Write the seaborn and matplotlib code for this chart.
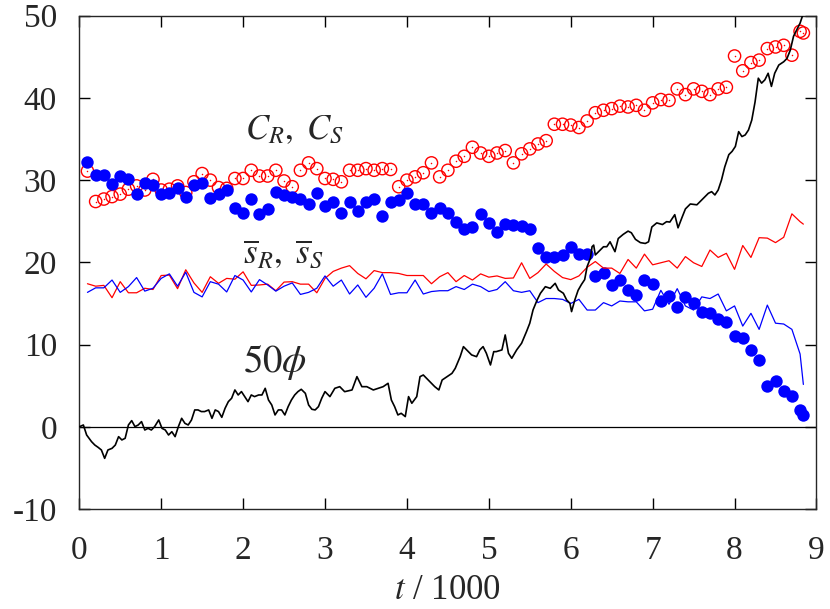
import numpy as np
import pandas as pd
import matplotlib
matplotlib.use("Agg")
import matplotlib.pyplot as plt
import seaborn as sns

# sampling times (t / 1000) for the marker series and the two thin lines
t = np.append(np.arange(1, 89) / 10, 8.84)

c_r = [31.1, 27.4, 27.7, 28.0, 28.3, 28.9, 29.3, 28.8, 30.1, 28.8,
       28.9, 29.3, 28.5, 29.8, 30.8, 30.0, 29.1, 29.0, 30.2, 30.2,
       31.2, 30.5, 30.5, 31.2, 29.9, 29.2, 31.2, 32.1, 31.4, 30.2,
       30.1, 29.8, 31.2, 31.2, 31.4, 31.2, 31.4, 31.3, 29.2, 30.0,
       30.4, 30.9, 32.1, 30.4, 31.2, 32.3, 32.9, 34.0, 33.3, 32.9,
       33.3, 33.6, 32.1, 33.2, 33.8, 34.4, 34.8, 36.8, 36.8, 36.7,
       36.4, 37.2, 38.2, 38.5, 38.7, 39.0, 38.9, 39.1, 38.5, 39.4,
       39.8, 39.7, 41.1, 40.4, 41.1, 40.8, 40.4, 41.1, 41.3, 45.1,
       43.3, 44.3, 44.6, 46.0, 46.2, 46.4, 45.2, 48.1, 47.9]

c_s = [32.2, 30.6, 30.6, 29.5, 30.5, 30.1, 28.3, 29.6, 29.4, 28.3,
       28.4, 29.0, 27.9, 29.4, 29.6, 27.8, 28.3, 28.8, 26.6, 26.0,
       27.7, 25.9, 26.5, 28.5, 28.2, 27.9, 27.7, 27.1, 28.4, 26.8,
       27.4, 26.0, 27.4, 26.2, 27.4, 27.7, 25.6, 27.3, 27.6, 28.4,
       27.1, 27.1, 26.0, 26.6, 26.0, 24.9, 24.1, 24.3, 25.9, 24.8,
       23.7, 24.7, 24.5, 24.4, 24.0, 21.7, 20.7, 20.7, 20.9, 21.9,
       21.0, 21.0, 18.3, 18.7, 17.2, 17.8, 16.6, 16.0, 17.9, 17.4,
       15.3, 15.9, 14.6, 15.8, 15.1, 14.0, 13.9, 13.1, 12.7, 11.0,
       10.8, 9.4, 8.1, 5.0, 5.6, 4.4, 3.7, 2.0, 1.4]

s_r = [17.4, 17.1, 17.2, 15.7, 17.65, 16.3, 16.3, 16.85, 16.7, 18.4,
       18.45, 16.8, 19.1, 17.5, 16.35, 18.25, 17.45, 18.05, 17.95, 18.85,
       17.2, 17.25, 17.35, 16.55, 17.6, 17.65, 17.35, 17.35, 16.3, 18.05,
       18.9, 19.3, 19.6, 18.65, 18.0, 19.0, 18.75, 18.75, 18.65, 18.4,
       18.4, 18.4, 17.4, 18.25, 18.75, 17.65, 18.4, 17.85, 18.6, 18.2,
       18.35, 18.05, 18.1, 19.95, 18.05, 18.75, 19.8, 18.9, 18.15, 17.9,
       18.35, 19.4, 20.1, 19.3, 19.3, 18.65, 20.35, 19.3, 21.0, 19.7,
       19.95, 20.2, 19.3, 20.7, 19.95, 19.5, 21.5, 20.6, 21.1, 19.15,
       22.05, 20.6, 23.0, 22.95, 22.4, 23.05, 25.9, 24.95, 24.65]

s_s = [16.35, 16.9, 16.9, 17.85, 16.35, 17.05, 18.15, 16.5, 16.85, 18.05,
       18.6, 17.1, 18.8, 16.35, 15.8, 17.65, 17.35, 16.4, 18.4, 17.85,
       16.4, 17.9, 17.25, 16.5, 17.1, 17.5, 16.1, 16.35, 16.85, 18.35,
       17.1, 17.85, 16.15, 17.25, 15.75, 16.85, 18.6, 16.1, 16.3, 16.3,
       17.85, 16.15, 16.45, 16.55, 16.55, 17.05, 16.7, 17.35, 17.05, 16.45,
       16.7, 17.65, 16.55, 16.35, 16.55, 15.1, 15.6, 15.6, 15.5, 15.0,
       15.5, 14.2, 14.2, 15.1, 14.7, 15.3, 15.2, 15.2, 14.1, 14.3,
       16.6, 14.9, 16.8, 14.7, 14.2, 15.8, 15.6, 16.15, 14.1, 14.7,
       12.25, 13.8, 11.85, 14.8, 12.6, 12.5, 11.85, 8.85, 5.15]

# 50*phi trace
phi_t = [0.0, 0.05, 0.09, 0.15, 0.19, 0.23, 0.27, 0.31, 0.35, 0.40,
         0.44, 0.48, 0.52, 0.56, 0.60, 0.64, 0.68, 0.72, 0.76, 0.80,
         0.84, 0.88, 0.92, 0.97, 1.01, 1.05, 1.09, 1.13, 1.17, 1.21,
         1.25, 1.29, 1.33, 1.37, 1.41, 1.45, 1.49, 1.53, 1.58, 1.62,
         1.66, 1.70, 1.74, 1.78, 1.82, 1.86, 1.90, 1.94, 1.98, 2.02,
         2.06, 2.10, 2.14, 2.19, 2.23, 2.27, 2.31, 2.35, 2.39, 2.43,
         2.47, 2.51, 2.55, 2.59, 2.63, 2.67, 2.71, 2.76, 2.80, 2.84,
         2.88, 2.92, 2.96, 3.00, 3.06, 3.12, 3.18, 3.24, 3.33, 3.39,
         3.45, 3.51, 3.59, 3.65, 3.71, 3.77, 3.81, 3.85, 3.89, 3.93,
         3.98, 4.02, 4.06, 4.12, 4.16, 4.20, 4.26, 4.34, 4.39, 4.43,
         4.49, 4.55, 4.59, 4.65, 4.69, 4.73, 4.79, 4.85, 4.89, 4.93,
         4.97, 5.02, 5.06, 5.09, 5.16, 5.20, 5.24, 5.28, 5.34, 5.40,
         5.46, 5.50, 5.54, 5.59, 5.63, 5.69, 5.75, 5.81, 5.85, 5.91,
         5.95, 5.99, 6.01, 6.05, 6.09, 6.13, 6.17, 6.20, 6.24, 6.26,
         6.28, 6.30, 6.34, 6.38, 6.40, 6.44, 6.48, 6.54, 6.58, 6.64,
         6.70, 6.74, 6.79, 6.85, 6.91, 6.95, 6.99, 7.05, 7.12, 7.17,
         7.21, 7.27, 7.31, 7.36, 7.40, 7.46, 7.54, 7.60, 7.64, 7.68,
         7.72, 7.76, 7.80, 7.84, 7.88, 7.93, 7.97, 8.01, 8.05, 8.09,
         8.13, 8.17, 8.21, 8.25, 8.29, 8.33, 8.37, 8.41, 8.45, 8.49,
         8.54, 8.60, 8.64, 8.68, 8.72, 8.76, 8.80, 8.84]
phi_50 = [0.0, 0.22, -1.0, -1.81, -2.22, -2.5, -2.82, -3.84, -2.82, -2.62,
          -2.22, -1.2, -1.6, -1.4, 0.22, 0.75, 0.02, 0.22, 0.63, -0.39,
          -0.19, -0.39, 0.02, 0.83, -0.19, -0.39, -1.0, -0.6, -1.2, 0.02,
          1.03, 0.42, 0.22, 0.83, 2.05, 2.05, 1.85, 1.85, 2.05, 1.03,
          2.05, 1.85, 1.15, 2.25, 3.06, 3.47, 4.48, 3.87, 4.28, 3.67,
          3.06, 3.87, 3.67, 3.87, 3.87, 4.68, 3.26, 2.65, 1.44, 2.05,
          2.05, 1.44, 2.45, 3.26, 3.87, 4.28, 4.56, 4.07, 2.65, 2.13,
          2.05, 2.45, 3.47, 4.28, 3.67, 4.68, 4.88, 4.27, 4.48, 6.10,
          4.88, 4.88, 4.48, 4.68, 4.88, 5.29, 3.26, 2.45, 1.44, 1.64,
          1.24, 3.67, 2.86, 3.67, 6.10, 6.30, 5.69, 4.88, 4.48, 5.69,
          6.10, 6.50, 7.11, 8.53, 9.75, 9.35, 8.74, 8.53, 9.35, 9.75,
          8.94, 7.52, 9.14, 9.14, 9.35, 11.17, 8.94, 8.33, 9.35, 10.16,
          11.58, 12.60, 14.22, 15.43, 16.24, 17.04, 16.84, 17.45, 16.64, 16.24,
          15.43, 15.02, 14.01, 15.43, 16.6, 17.3, 17.9, 19.48, 20.5, 21.9,
          22.1, 20.9, 21.3, 21.7, 21.9, 21.9, 22.5, 21.3, 22.9, 23.4,
          23.8, 23.6, 22.8, 22.4, 22.3, 22.5, 24.3, 24.8, 24.6, 24.95,
          24.9, 25.8, 24.2, 25.5, 26.5, 27.1, 27.0, 27.6, 28.0, 28.4,
          28.6, 28.2, 28.8, 30.0, 31.6, 33.1, 33.5, 34.1, 35.9, 35.3,
          35.5, 36.1, 37.3, 39.5, 42.4, 41.8, 42.2, 43.0, 41.4, 43.0,
          44.0, 44.4, 44.8, 45.8, 47.5, 48.3, 49.1, 50.3]

df = pd.DataFrame({"t": t, "c_r": c_r, "c_s": c_s, "s_r": s_r, "s_s": s_s})
phi = pd.DataFrame({"t": phi_t, "phi50": phi_50})

sns.set_style("ticks")
plt.rcParams["font.family"] = ["Liberation Serif", "DejaVu Serif"]
plt.rcParams["mathtext.fontset"] = "stix"
plt.rcParams["axes.unicode_minus"] = False
plt.rcParams["axes.linewidth"] = 1.0

fig = plt.figure(figsize=(8.3, 6.09), dpi=100)
ax = fig.add_axes([0.0955, 0.1642, 0.8882, 0.81])

ax.axhline(0, color="black", lw=0.9, zorder=1)

# open red circles with the little centre dot
sns.scatterplot(data=df, x="t", y="c_r", ax=ax, s=78, color="red",
                linewidth=1.0, zorder=2)
ring = ax.collections[-1]
ring.set_facecolor("none")
ring.set_edgecolor("red")
sns.scatterplot(data=df, x="t", y="c_r", ax=ax, s=1.2, color="red",
                linewidth=0, zorder=2)

sns.scatterplot(data=df, x="t", y="c_s", ax=ax, s=80, color="blue",
                linewidth=0, zorder=3)

sns.lineplot(data=df, x="t", y="s_r", ax=ax, color="red", lw=0.9,
             estimator=None, sort=False, zorder=4)
sns.lineplot(data=df, x="t", y="s_s", ax=ax, color="blue", lw=0.9,
             estimator=None, sort=False, zorder=4)
sns.lineplot(data=phi, x="t", y="phi50", ax=ax, color="black", lw=1.2,
             estimator=None, sort=False, zorder=5)

ax.text(2.02, 35.0, r"$C_R,\ C_S$", fontsize=25)
ax.text(2.0, 19.9, r"$\overline{s}_R,\ \overline{s}_S$", fontsize=25)
ax.text(2.0, 6.7, r"$50\phi$", fontsize=28)

ax.set_xlim(0, 9)
ax.set_ylim(-10, 50)
ax.set_xticks(range(0, 10))
ax.set_yticks(range(-10, 60, 10))
ax.tick_params(direction="in", length=8, width=1, top=True, right=True,
               labelsize=24, color="black")
ax.tick_params(axis="x", pad=19)
ax.tick_params(axis="y", pad=16)
ax.set_xlabel(r"$t$ / 1000", fontsize=25, labelpad=6)
ax.set_ylabel("")

fig.savefig("out.png", dpi=100)
